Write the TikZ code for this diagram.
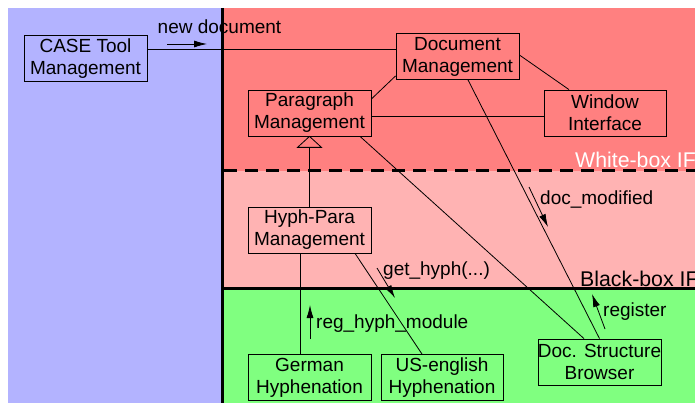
\documentclass[tikz,border=0pt]{standalone}
\usepackage{fontspec}
\setmainfont{Liberation Sans}
\usetikzlibrary{arrows.meta}
\definecolor{bgblue}{HTML}{B3B3FF}
\definecolor{bgred}{HTML}{FF8080}
\definecolor{bgpink}{HTML}{FFB3B3}
\definecolor{bggreen}{HTML}{80FF80}
\tikzset{
  box/.style={draw, line width=0.8pt, minimum width=123pt, minimum height=46pt, align=center, inner sep=0pt, font=\fontsize{19}{22}\selectfont},
  lbl/.style={inner sep=0pt, font=\fontsize{19}{22}\selectfont},
  reglbl/.style={inner sep=0pt, font=\fontsize{21.3}{24}\selectfont},
  conn/.style={line width=0.8pt},
  msg/.style={line width=0.8pt, -{Latex[length=13pt,width=7pt]}},
  thickline/.style={line width=3pt},
}
\begin{document}
\begin{tikzpicture}[x=1pt,y=-1pt]
\useasboundingbox (0,0) rectangle (695,403);
\clip (0,0) rectangle (695,403);
% regions
\fill[bgblue] (8,8) rectangle (222,403);
\fill[bgred] (222,8) rectangle (695,171);
\fill[bgpink] (222,171) rectangle (695,288);
\fill[bggreen] (222,288) rectangle (695,403);
\draw[thickline, dash pattern=on 13pt off 8pt] (224,171) -- (695,171);
\draw[thickline] (222,288) -- (695,288);
\draw[thickline] (222,8) -- (222,403);
% boxes
\node[box] (case) at (85.5,58.5) {CASE Tool\\Management};
\node[box] (doc) at (457.5,56.5) {Document\\Management};
\node[box, minimum width=122pt] (win) at (605,113) {Window\\Interface};
\node[box] (para) at (309.5,113) {Paragraph\\Management};
\node[box] (hyph) at (309.5,230) {Hyph-Para\\Management};
\node[box] (ger) at (309.5,377.5) {German\\Hyphenation};
\node[box, minimum width=122pt] (us) at (442,377.5) {US-english\\Hyphenation};
\node[box] (dsb) at (599.5,362) {Doc. Structure\\Browser};
% connectors
\draw[conn] ([yshift=9.5pt]case.east) -- ([yshift=9.5pt]case.east -| doc.west);
\draw[conn] ([yshift=4pt]doc.south west) -- ([yshift=14pt]para.east);
\draw[conn] ([yshift=1.5pt]doc.east) -- ([xshift=-36pt]win.north);
\draw[conn] ([yshift=-3pt]para.east) -- ([yshift=-3pt]para.east -| win.west);
\draw[conn] ([xshift=10.5pt]doc.south) -- (dsb.north);
\draw[conn] ([xshift=50.5pt]para.south) -- ([xshift=-15.5pt]dsb.north);
\draw[conn] ([xshift=-9.5pt]hyph.south) -- ([xshift=-9.5pt]ger.north);
\draw[conn] ([xshift=45.5pt]hyph.south) -- ([xshift=-20pt]us.north);
% inheritance
\coordinate (tribase) at ([yshift=-11pt]para.south);
\draw[conn] (para.south) -- ([xshift=-12pt]tribase) -- ([xshift=12pt]tribase) -- cycle;
\draw[conn] (hyph.north) -- (tribase);
% message arrows
\coordinate (nd1) at (167,44); \coordinate (nd2) at (207,44);
\draw[msg] (nd1) -- (nd2);
\node[lbl] (ndl) at (219.5,27) {new document};
\coordinate (rg1) at (310,339); \coordinate (rg2) at (310,305);
\draw[msg] (rg1) -- (rg2);
\node[lbl, anchor=west] (rgl) at (316,324) {reg\_hyph\_module};
\coordinate (gh1) at (377,268); \coordinate (gh2) at (395,298);
\draw[msg] (gh1) -- (gh2);
\node[lbl, anchor=west] (ghl) at (383,271) {get\_hyph(...)};
\coordinate (dm1) at (529,187); \coordinate (dm2) at (548,227);
\draw[msg] (dm1) -- (dm2);
\node[lbl, anchor=west] (dml) at (540,200) {doc\_modified};
\coordinate (re1) at (605,329); \coordinate (re2) at (592,294);
\draw[msg] (re1) -- (re2);
\node[lbl, anchor=west] (rel) at (603,312) {register};
% region labels
\node[reglbl, anchor=base west, text=white] (wb) at (575,168) {White-box IF};
\node[reglbl, anchor=base west] (bb) at (580,286) {Black-box IF};
\end{tikzpicture}
\end{document}
